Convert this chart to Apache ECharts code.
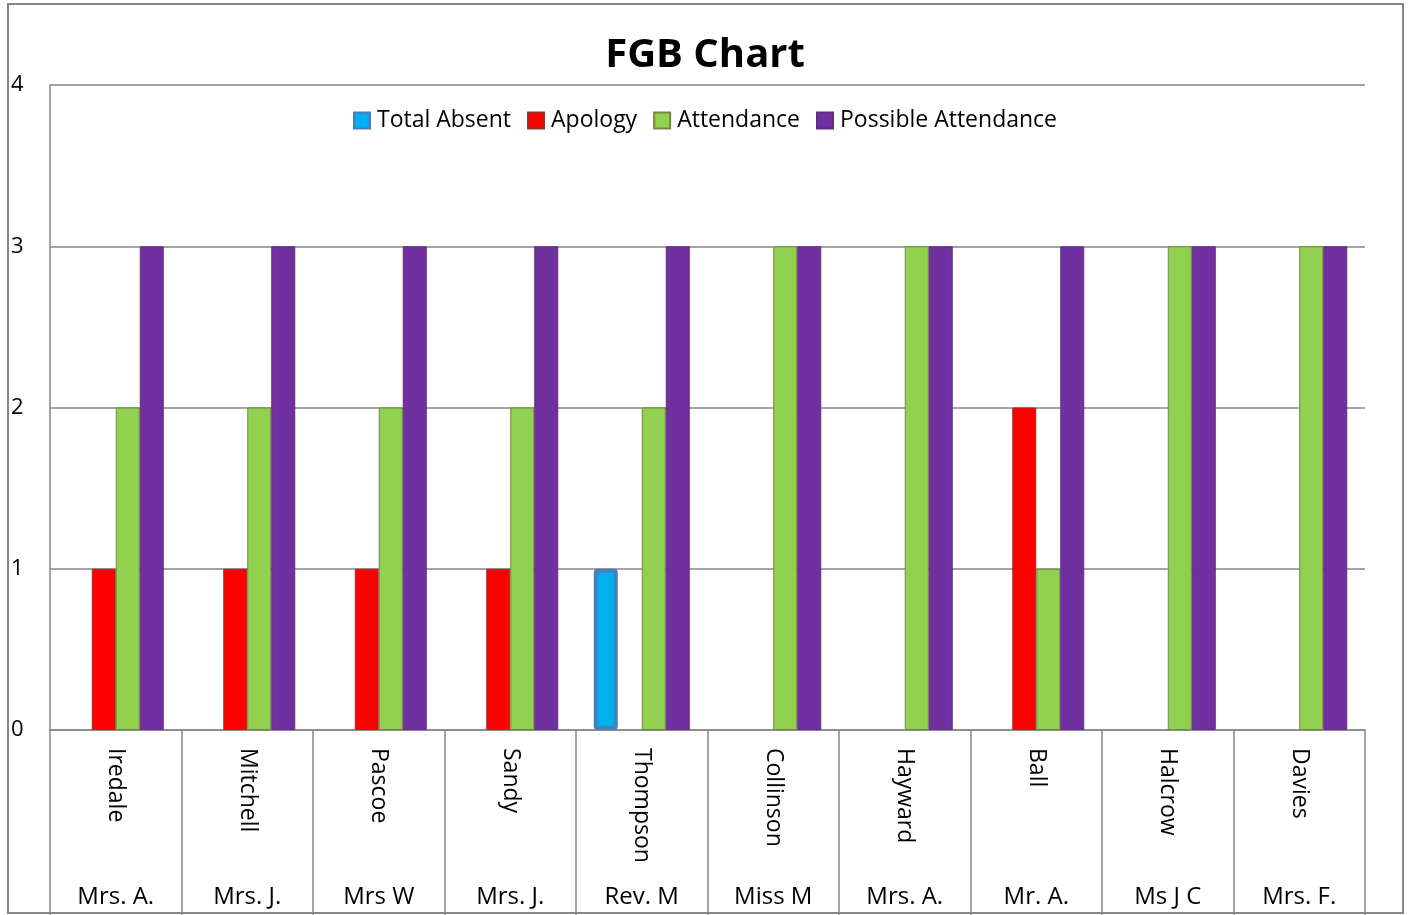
<!DOCTYPE html>
<html>
<head>
<meta charset="utf-8">
<script src="https://cdn.jsdelivr.net/npm/echarts@6/dist/echarts.min.js"></script>
<style>
  html, body { margin: 0; padding: 0; background: #fff; }
  #chart { width: 1410px; height: 915px; }
</style>
</head>
<body>
<div id="chart"></div>
<script>
// FGB attendance chart
var surnames = ['Iredale', 'Mitchell', 'Pascoe', 'Sandy', 'Thompson', 'Collinson', 'Hayward', 'Ball', 'Halcrow', 'Davies'];
var titles = ['Mrs. A.', 'Mrs. J.', 'Mrs W', 'Mrs. J.', 'Rev. M', 'Miss M', 'Mrs. A.', 'Mr. A.', 'Ms J C', 'Mrs. F.'];
var totalAbsent = [0, 0, 0, 0, 1, 0, 0, 0, 0, 0];
var apology = [1, 1, 1, 1, 0, 0, 0, 2, 0, 0];
var attendance = [2, 2, 2, 2, 2, 3, 3, 1, 3, 3];
var possible = [3, 3, 3, 3, 3, 3, 3, 3, 3, 3];

var FONT = 'Open Sans';

// zero -> no bar
function bars(arr) {
    return arr.map(function (v) { return v === 0 ? '-' : v; });
}

var myChart = echarts.init(document.getElementById('chart'));
var option = {
    animation: false,
    textStyle: { fontFamily: FONT, color: '#000' },
    title: {
        text: 'FGB Chart',
        left: 'center',
        top: 31,
        textStyle: { fontFamily: FONT, fontSize: 40, fontWeight: 'bold', color: '#000' }
    },
    legend: {
        top: 104,
        left: 'center',
        icon: 'rect',
        itemWidth: 16,
        itemHeight: 16,
        itemGap: 16,
        textStyle: { fontFamily: FONT, fontSize: 23, color: '#000', padding: [0, 0, 0, 2] },
        data: ['Total Absent', 'Apology', 'Attendance', 'Possible Attendance']
    },
    grid: { left: 50, right: 45, top: 85, bottom: 185 },
    xAxis: [
        {
            type: 'category',
            data: surnames,
            axisLine: { lineStyle: { color: '#868686', width: 1.5 } },
            axisTick: { show: true, length: 185, interval: 0, lineStyle: { color: '#868686', width: 1.5 } },
            axisLabel: {
                interval: 0,
                rotate: -90,
                margin: 18,
                fontFamily: FONT,
                fontSize: 23,
                color: '#000'
            }
        },
        {
            type: 'category',
            data: titles,
            position: 'bottom',
            axisLine: { show: false },
            axisTick: { show: false },
            axisLabel: {
                interval: 0,
                margin: 155,
                fontFamily: FONT,
                fontSize: 24,
                color: '#000'
            }
        }
    ],
    yAxis: {
        type: 'value',
        min: 0,
        max: 4,
        interval: 1,
        axisLine: { show: true, lineStyle: { color: '#868686', width: 1.5 } },
        axisTick: { show: false },
        splitLine: { lineStyle: { color: '#868686', width: 1.5 } },
        axisLabel: {
            align: 'left',
            margin: 39,
            fontFamily: FONT,
            fontSize: 22,
            color: '#000'
        }
    },
    series: [
        {
            name: 'Total Absent',
            type: 'bar',
            barWidth: 24,
            barGap: '0%',
            data: bars(totalAbsent),
            itemStyle: { color: '#00b0f0', borderColor: '#4a7ebb', borderWidth: 4, borderRadius: 2 }
        },
        {
            name: 'Apology',
            type: 'bar',
            barWidth: 24,
            barGap: '0%',
            data: bars(apology),
            itemStyle: { color: '#ff0000', borderColor: '#9b2d2a', borderWidth: 1 }
        },
        {
            name: 'Attendance',
            type: 'bar',
            barWidth: 24,
            barGap: '0%',
            data: bars(attendance),
            itemStyle: { color: '#92d050', borderColor: '#71893f', borderWidth: 1 }
        },
        {
            name: 'Possible Attendance',
            type: 'bar',
            barWidth: 24,
            barGap: '0%',
            data: bars(possible),
            itemStyle: { color: '#7030a0', borderColor: '#5c2d80', borderWidth: 1 }
        }
    ],
    graphic: [
        {
            type: 'rect',
            shape: { x: 8, y: 4, width: 1395, height: 909 },
            style: { fill: 'none', stroke: '#868686', lineWidth: 2 },
            silent: true
        }
    ]
};
myChart.setOption(option);
</script>
</body>
</html>
